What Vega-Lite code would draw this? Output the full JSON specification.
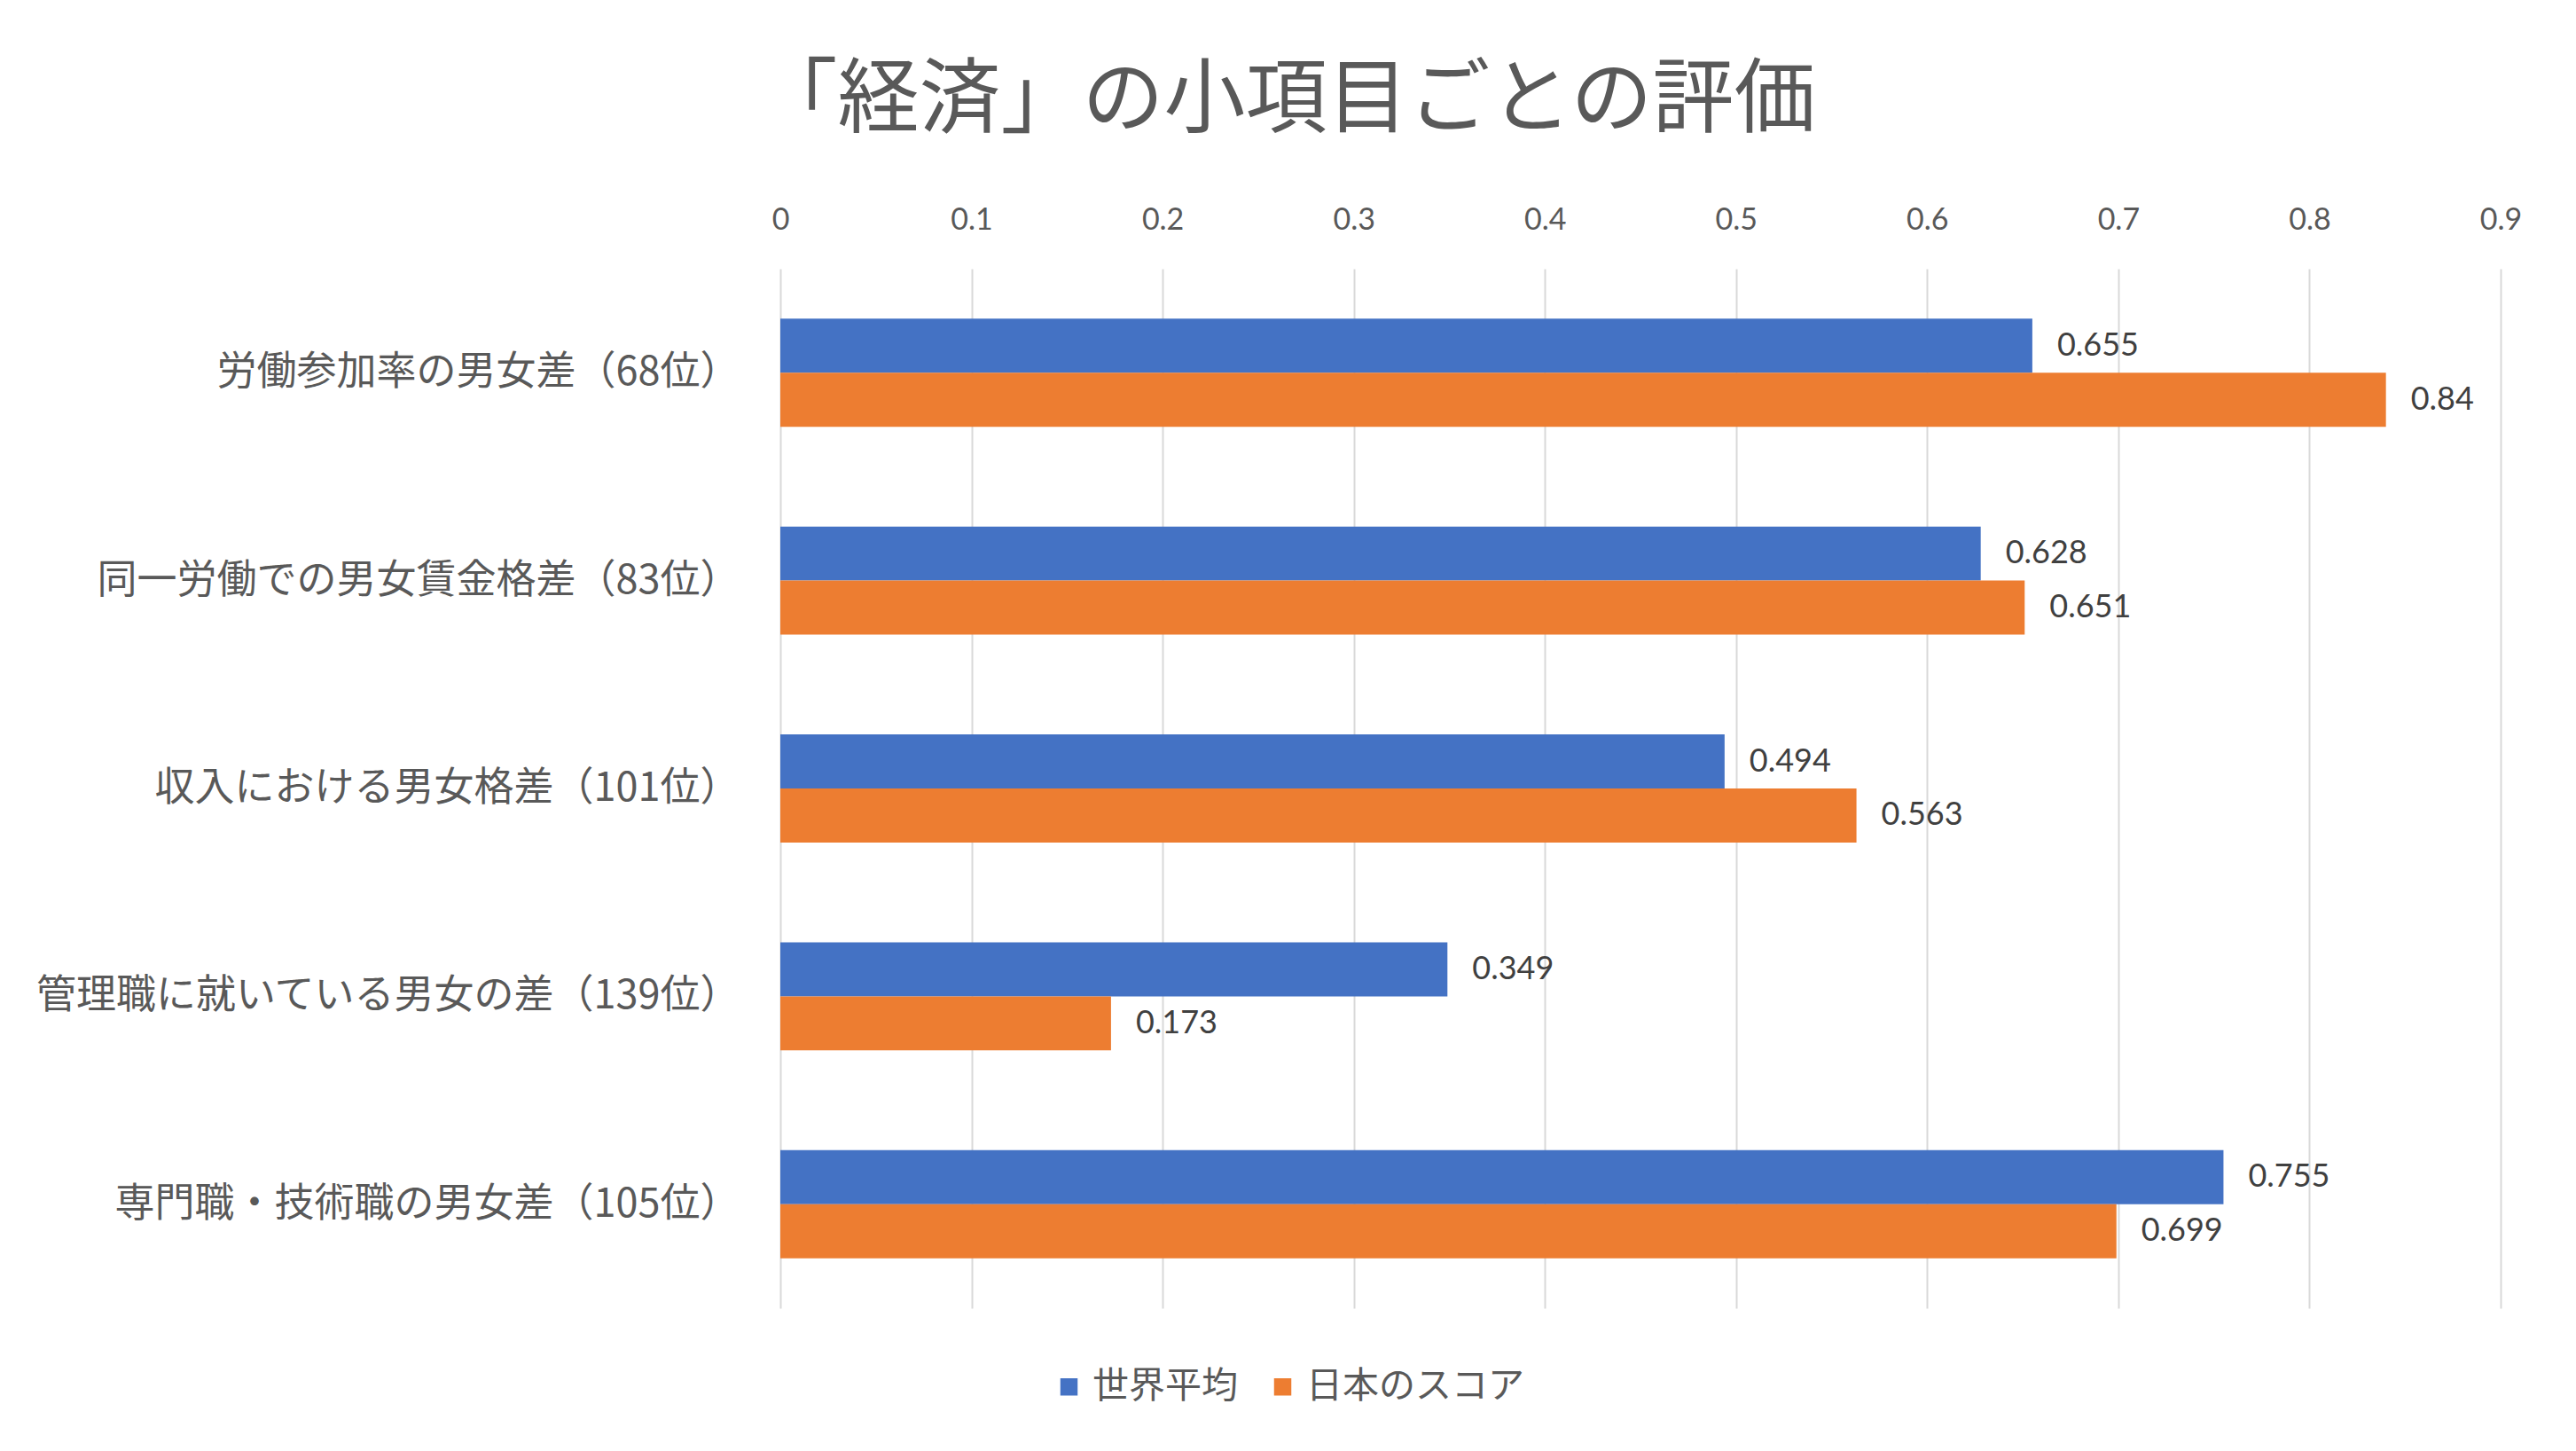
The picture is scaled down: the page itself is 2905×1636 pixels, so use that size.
{
  "$schema": "https://vega.github.io/schema/vega-lite/v6.json",
  "description": "「経済」の小項目ごとの評価 - grouped horizontal bars",
  "background": "white",
  "autosize": {"type": "none"},
  "width": 1940,
  "height": 1172,
  "padding": {"left": 880, "top": 303, "right": 85, "bottom": 161},
  "title": {
    "text": "「経済」の小項目ごとの評価",
    "fontSize": 92,
    "font": "Noto Sans CJK JP",
    "fontWeight": "normal",
    "color": "#595959",
    "anchor": "middle",
    "frame": "group",
    "dx": -400,
    "offset": 70
  },
  "data": {
    "values": [
      {"item": "労働参加率の男女差（68位）", "series": "世界平均", "score": 0.655},
      {"item": "労働参加率の男女差（68位）", "series": "日本のスコア", "score": 0.84},
      {"item": "同一労働での男女賃金格差（83位）", "series": "世界平均", "score": 0.628},
      {"item": "同一労働での男女賃金格差（83位）", "series": "日本のスコア", "score": 0.651},
      {"item": "収入における男女格差（101位）", "series": "世界平均", "score": 0.494},
      {"item": "収入における男女格差（101位）", "series": "日本のスコア", "score": 0.563},
      {"item": "管理職に就いている男女の差（139位）", "series": "世界平均", "score": 0.349},
      {"item": "管理職に就いている男女の差（139位）", "series": "日本のスコア", "score": 0.173},
      {"item": "専門職・技術職の男女差（105位）", "series": "世界平均", "score": 0.755},
      {"item": "専門職・技術職の男女差（105位）", "series": "日本のスコア", "score": 0.699}
    ]
  },
  "encoding": {
    "y": {
      "field": "item",
      "type": "nominal",
      "sort": null,
      "title": null,
      "scale": {"paddingInner": 0.48, "paddingOuter": 0.24},
      "axis": {
        "domain": false,
        "ticks": false,
        "labelFont": "Noto Sans CJK JP",
        "labelFontSize": 45,
        "labelColor": "#595959",
        "labelPadding": 46,
        "labelLimit": 1000
      }
    },
    "yOffset": {
      "field": "series",
      "type": "nominal",
      "sort": ["世界平均", "日本のスコア"],
      "scale": {"paddingInner": 0, "paddingOuter": 0}
    },
    "x": {
      "field": "score",
      "type": "quantitative",
      "title": null,
      "scale": {"domain": [0, 0.9], "nice": false},
      "axis": {
        "orient": "top",
        "values": [0, 0.1, 0.2, 0.3, 0.4, 0.5, 0.6, 0.7, 0.8, 0.9],
        "format": ".1~f",
        "domain": false,
        "ticks": false,
        "grid": true,
        "gridColor": "#d9d9d9",
        "gridWidth": 2,
        "labelFlush": false,
        "labelFont": "Lato",
        "labelFontSize": 34,
        "labelColor": "#595959",
        "labelPadding": 38
      }
    }
  },
  "layer": [
    {
      "mark": {"type": "bar"},
      "encoding": {
        "color": {
          "field": "series",
          "type": "nominal",
          "title": null,
          "scale": {"domain": ["世界平均", "日本のスコア"], "range": ["#4472C4", "#ED7D31"]},
          "legend": {
            "orient": "none",
            "direction": "horizontal",
            "legendX": 305,
            "legendY": 1240,
            "symbolType": "square",
            "symbolSize": 380,
            "symbolStrokeWidth": 0,
            "labelFont": "Noto Sans CJK JP",
            "labelFontSize": 41,
            "labelColor": "#595959",
            "labelLimit": 600,
            "columnPadding": 30,
            "labelOffset": 6
          }
        }
      }
    },
    {
      "mark": {
        "type": "text",
        "align": "left",
        "baseline": "middle",
        "dx": 28,
        "font": "Lato",
        "fontSize": 36,
        "color": "#404040"
      },
      "encoding": {
        "text": {"field": "score", "type": "quantitative", "format": "~g"}
      }
    }
  ],
  "config": {
    "view": {"stroke": null}
  }
}
